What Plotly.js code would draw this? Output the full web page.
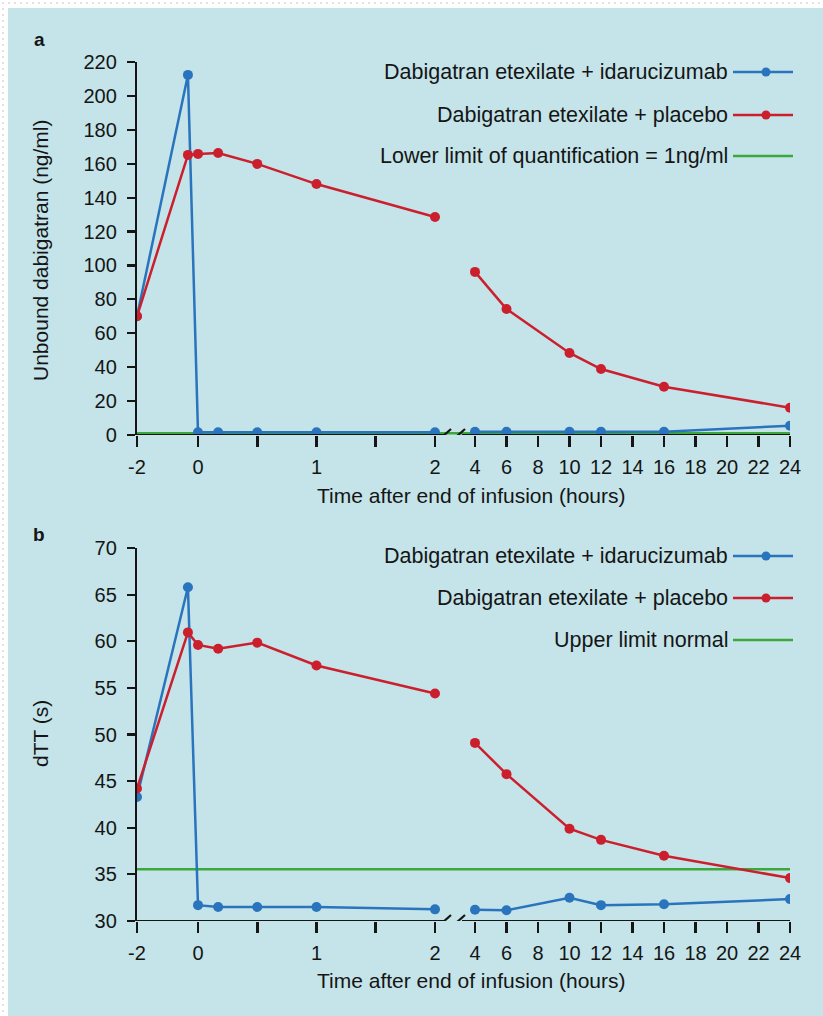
<!DOCTYPE html>
<html><head><meta charset="utf-8">
<script src="https://cdn.plot.ly/plotly-3.0.1.min.js"></script>
<style>
html,body{margin:0;padding:0;background:#fff;}
#frame{position:absolute;left:0;top:0;width:823px;height:1016px;background-color:#fff;background-image:radial-gradient(circle,#e2e2e2 1px,transparent 1.4px);background-size:6px 6px;}
#panel{position:absolute;left:8px;top:8px;width:815px;height:1008px;background:#c4e4e9;}
#chart{position:absolute;left:0;top:0;width:823px;height:1016px;}
</style></head><body>
<div id="frame"></div><div id="panel"></div><div id="chart"></div>
<script>
// ---- data ----
const timesHours = [-2, -0.33, 0, 0.17, 0.5, 1, 2, 4, 6, 10, 12, 16, 24];
const unboundIdarucizumab = [70, 212.4, 1.6, 1.6, 1.6, 1.6, 1.6, 1.9, 1.9, 1.9, 1.9, 1.9, 5.5];
const unboundPlacebo = [70, 165.2, 165.8, 166.3, 159.9, 148, 128.6, 96.2, 74.3, 48.4, 38.9, 28.5, 16.1];
const lloqValue = 1;
const dttIdarucizumab = [43.3, 65.8, 31.7, 31.5, 31.5, 31.5, 31.25, 31.2, 31.15, 32.5, 31.7, 31.8, 32.35];
const dttPlacebo = [44.2, 60.95, 59.6, 59.2, 59.85, 57.4, 54.4, 49.1, 45.75, 39.9, 38.7, 37.0, 34.6];
const upperLimitNormal = 35.55;
const xTickHours = [-2, 0, 0.5, 1, 1.5, 2, 4, 6, 8, 10, 12, 14, 16, 18, 20, 22, 24];
const xTickText = ['-2', '0', '', '1', '', '2', '4', '6', '8', '10', '12', '14', '16', '18', '20', '22', '24'];
const yTicksA = [0, 20, 40, 60, 80, 100, 120, 140, 160, 180, 200, 220];
const yTicksB = [30, 35, 40, 45, 50, 55, 60, 65, 70];
const seriesNames = ['Dabigatran etexilate + idarucizumab', 'Dabigatran etexilate + placebo'];
const refNameA = 'Lower limit of quantification = 1ng/ml';
const refNameB = 'Upper limit normal';

// ---- broken time scale (three linear segments, break between 2 h and 4 h) ----
function tpos(t) {
  if (t <= 0) return (t + 2) * 30.5;
  if (t <= 2) return 61 + t * 118.5;
  return 338 + (t - 4) * 15.75;
}
const XMAX = tpos(24);

const W = 823, H = 1016;
const px = v => v / W;
const py = v => 1 - v / H;

const BLUE = '#2a74bd', RED = '#cc1f2d', GREEN = '#3aa83a', INK = '#151515';
const FONT = 'Liberation Sans, Arial, sans-serif';

// split the line at the axis break (no line drawn across 2 h -> 4 h)
function withBreak(t, v) {
  const xs = [], ys = [];
  for (let i = 0; i < t.length; i++) {
    if (i > 0 && t[i - 1] <= 2 && t[i] >= 4) { xs.push(null); ys.push(null); }
    xs.push(tpos(t[i])); ys.push(v[i]);
  }
  return [xs, ys];
}
function series(t, v, color, xa, ya) {
  const [xs, ys] = withBreak(t, v);
  return {x: xs, y: ys, type: 'scatter', mode: 'lines+markers', xaxis: xa, yaxis: ya, connectgaps: false,
    line: {color: color, width: 2.5}, marker: {color: color, size: 10}, hoverinfo: 'skip', showlegend: false};
}
function refLine(v, xa, ya) {
  return {x: [tpos(-2), tpos(24)], y: [v, v], type: 'scatter', mode: 'lines', xaxis: xa, yaxis: ya,
    line: {color: GREEN, width: 2.5}, hoverinfo: 'skip', showlegend: false};
}

const data = [
  refLine(lloqValue, 'x', 'y'),
  series(timesHours, unboundIdarucizumab, BLUE, 'x', 'y'),
  series(timesHours, unboundPlacebo, RED, 'x', 'y'),
  refLine(upperLimitNormal, 'x2', 'y2'),
  series(timesHours, dttIdarucizumab, BLUE, 'x2', 'y2'),
  series(timesHours, dttPlacebo, RED, 'x2', 'y2')
];

function xAxis(anchor) {
  return {domain: [px(137), px(790)], range: [0, XMAX], anchor: anchor,
    tickvals: xTickHours.map(tpos), ticktext: xTickText, ticks: 'outside', ticklen: 11, tickwidth: 2.8,
    tickcolor: INK, showline: false, showgrid: false, zeroline: false, fixedrange: true,
    tickfont: {family: FONT, size: 20, color: INK}, ticklabelstandoff: 3};
}
function yAxis(anchor, top, bottom, rng, tv) {
  return {domain: [py(bottom), py(top)], range: rng, anchor: anchor, tickvals: tv,
    ticks: 'outside', ticklen: 8, tickwidth: 2.2, tickcolor: INK, showline: true, linewidth: 2.2, linecolor: INK,
    showgrid: false, zeroline: false, fixedrange: true,
    tickfont: {family: FONT, size: 20, color: INK}, ticklabelstandoff: 6};
}

const shapes = [];
const annotations = [];
function axisBreakLine(xref, yref, yv, unitsPerPx) {
  const L = {color: INK, width: 2.2};
  const p = v => v - 137;
  shapes.push({type: 'line', xref, yref, x0: p(136), x1: p(444), y0: yv, y1: yv, line: L});
  shapes.push({type: 'line', xref, yref, x0: p(442), x1: p(451), y0: yv - 2 * unitsPerPx, y1: yv + 6 * unitsPerPx, line: L});
  shapes.push({type: 'line', xref, yref, x0: p(456), x1: p(465), y0: yv - 2 * unitsPerPx, y1: yv + 6 * unitsPerPx, line: L});
  shapes.push({type: 'line', xref, yref, x0: p(462), x1: p(791), y0: yv, y1: yv, line: L});
}
axisBreakLine('x', 'y', 0, 220 / 373);
axisBreakLine('x2', 'y2', 30, 40 / 373);

function legendRow(yPx, label, color, withMarker) {
  shapes.push({type: 'line', xref: 'paper', yref: 'paper', x0: px(733), x1: px(793), y0: py(yPx), y1: py(yPx),
    line: {color: color, width: 2.5}});
  if (withMarker) {
    const r = 4.5;
    shapes.push({type: 'circle', xref: 'paper', yref: 'paper', x0: px(766 - r), x1: px(766 + r),
      y0: py(yPx + r), y1: py(yPx - r), fillcolor: color, line: {color: color, width: 0}});
  }
  annotations.push({xref: 'paper', yref: 'paper', x: px(730), y: py(yPx), xanchor: 'right', yanchor: 'middle',
    text: label, showarrow: false, font: {family: FONT, size: 21.5, color: INK}});
}
legendRow(72, seriesNames[0], BLUE, true);
legendRow(115, seriesNames[1], RED, true);
legendRow(156, refNameA, GREEN, false);
legendRow(556, seriesNames[0], BLUE, true);
legendRow(598, seriesNames[1], RED, true);
legendRow(640, refNameB, GREEN, false);

function txt(x, y, text, opts) {
  annotations.push(Object.assign({xref: 'paper', yref: 'paper', x: px(x), y: py(y), xanchor: 'center', yanchor: 'middle',
    text: text, showarrow: false, font: {family: FONT, size: 21, color: INK}}, opts || {}));
}
txt(39, 39, '<b>a</b>', {font: {family: FONT, size: 19, color: INK}});
txt(39, 534, '<b>b</b>', {font: {family: FONT, size: 19, color: INK}});
txt(471, 495, 'Time after end of infusion (hours)');
txt(471, 980, 'Time after end of infusion (hours)');
txt(40, 250, 'Unbound dabigatran (ng/ml)', {textangle: -90});
txt(40, 734, 'dTT (s)', {textangle: -90});

const layout = {
  width: W, height: H, margin: {l: 0, r: 0, t: 0, b: 0, pad: 0},
  paper_bgcolor: 'rgba(0,0,0,0)', plot_bgcolor: 'rgba(0,0,0,0)', showlegend: false,
  font: {family: FONT, color: INK},
  xaxis: xAxis('y'), yaxis: yAxis('x', 62, 435, [0, 220], yTicksA),
  xaxis2: xAxis('y2'), yaxis2: yAxis('x2', 548, 921, [30, 70], yTicksB),
  shapes: shapes, annotations: annotations
};
Plotly.newPlot('chart', data, layout, {displayModeBar: false, staticPlot: true});
</script>
</body></html>
